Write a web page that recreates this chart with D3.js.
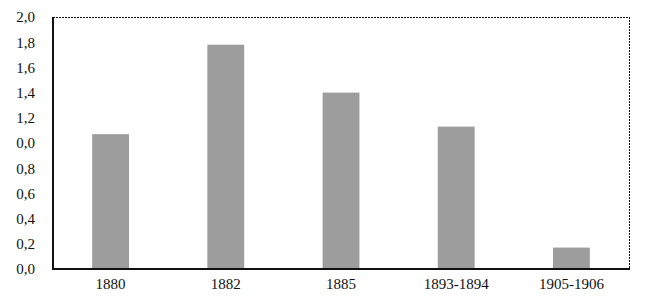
<!DOCTYPE html>
<html>
<head>
<meta charset="utf-8">
<script src="https://cdn.jsdelivr.net/npm/d3@7"></script>
<style>
  body { margin: 0; background: #fff; }
  text { font-family: "Liberation Serif", "Times New Roman", serif; font-size: 15px; fill: #111; }
</style>
</head>
<body>
<div id="chart"></div>
<script>
const WIDTH = 650;
const HEIGHT = 303;

// data
const categories = ['1880', '1882', '1885', '1893-1894', '1905-1906'];
const values = [1.07, 1.78, 1.40, 1.13, 0.17];
const tickValues = [0, 0.2, 0.4, 0.6, 0.8, 1.0, 1.2, 1.4, 1.6, 1.8, 2.0];
// the source labels the 1.0 tick as "0,0"
const tickLabels = ['0,0', '0,2', '0,4', '0,6', '0,8', '0,0', '1,2', '1,4', '1,6', '1,8', '2,0'];

const margin = {top: 17, right: 21, bottom: 34, left: 53};
const innerW = WIDTH - margin.left - margin.right;
const innerH = HEIGHT - margin.top - margin.bottom;

var svg = d3.select('#chart')
    .append('svg')
    .attr('width', WIDTH)
    .attr('height', HEIGHT);

var g = svg.append('g')
    .attr('transform', `translate(${margin.left},${margin.top})`);

var x = d3.scaleBand()
    .domain(categories)
    .range([0, innerW])
    .paddingInner(0.68)
    .paddingOuter(0.34);

var y = d3.scaleLinear()
    .domain([0, 2])
    .range([innerH, 0]);

// frame: thin dotted top/right
g.append('line')
    .attr('x1', 0).attr('x2', innerW)
    .attr('y1', 0.5).attr('y2', 0.5)
    .attr('stroke', '#111')
    .attr('stroke-dasharray', '2,1');
g.append('line')
    .attr('x1', innerW + 0.5).attr('x2', innerW + 0.5)
    .attr('y1', 0).attr('y2', innerH)
    .attr('stroke', '#111')
    .attr('stroke-dasharray', '2,1');

g.selectAll('rect.bar')
    .data(values)
    .enter()
    .append('rect')
    .attr('class', 'bar')
    .attr('x', (d, i) => x(categories[i]))
    .attr('y', d => y(d))
    .attr('width', x.bandwidth())
    .attr('height', d => y(0) - y(d))
    .attr('fill', '#9d9d9d');

// left axis
var yAxis = d3.axisLeft(y)
    .tickValues(tickValues)
    .tickFormat((d, i) => tickLabels[i])
    .tickSize(0)
    .tickPadding(18);

var ya = g.append('g').call(yAxis);
ya.select('.domain').remove();
ya.selectAll('text')
    .style('font-family', '"Liberation Serif", serif')
    .style('font-size', '15px')
    .attr('fill', '#111');

g.append('line')
    .attr('x1', 0).attr('x2', 0)
    .attr('y1', 0).attr('y2', innerH + 1)
    .attr('stroke', '#111')
    .attr('stroke-width', 2);

// bottom axis
var xAxis = d3.axisBottom(x)
    .tickSize(0)
    .tickPadding(9);

var xa = g.append('g')
    .attr('transform', `translate(0,${innerH})`)
    .call(xAxis);
xa.select('.domain').remove();
xa.selectAll('text')
    .style('font-family', '"Liberation Serif", serif')
    .style('font-size', '15px')
    .attr('fill', '#111');

g.append('line')
    .attr('x1', -1).attr('x2', innerW + 1)
    .attr('y1', innerH).attr('y2', innerH)
    .attr('stroke', '#111')
    .attr('stroke-width', 2);
</script>
</body>
</html>
